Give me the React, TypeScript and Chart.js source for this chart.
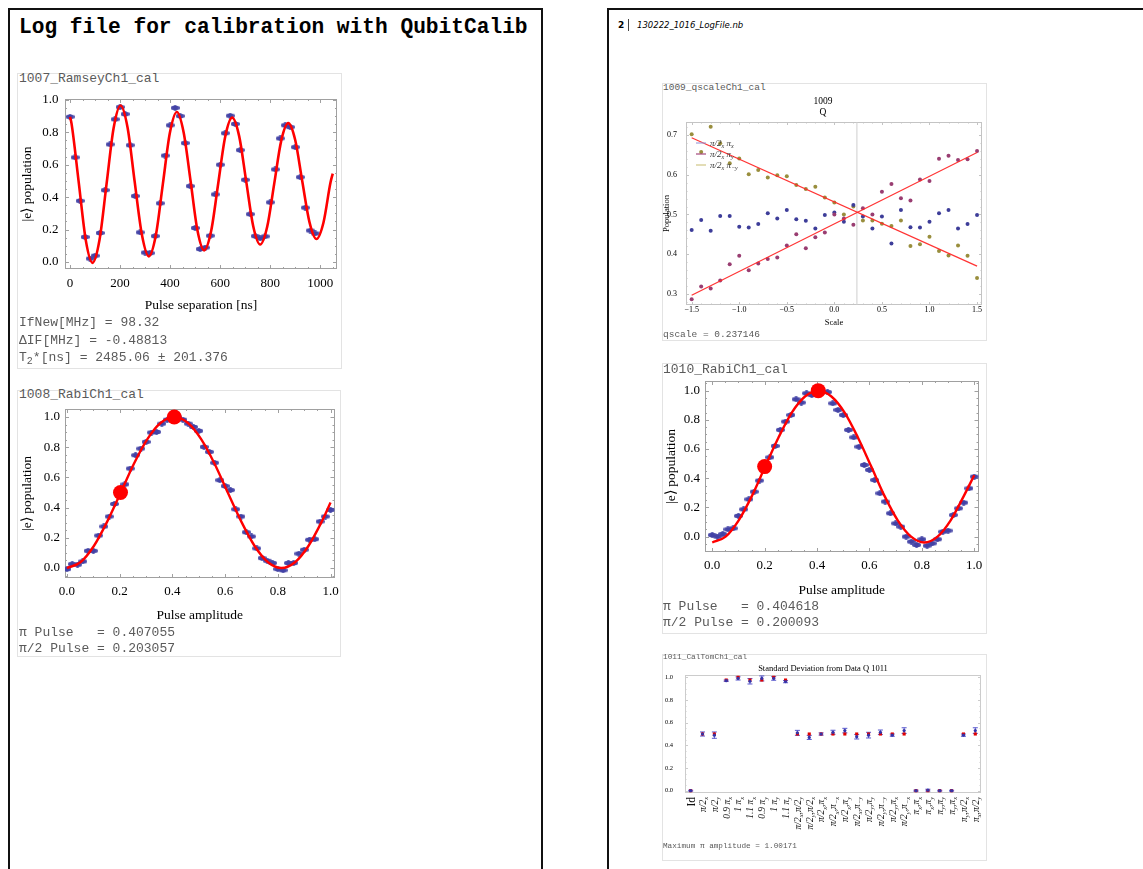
import React, { useEffect, useRef } from "react";
import { Chart, registerables } from "chart.js";
Chart.register(...registerables);

const SERIF = "'Liberation Serif', 'Times New Roman', serif";
const MONO = "'Liberation Mono', 'Courier New', monospace";
const SANS = "'DejaVu Sans', Verdana, sans-serif";

// ---------- 1007 Ramsey ----------
const ramseyX = [0, 20, 40, 60, 80, 100, 120, 140, 160, 180, 200, 220, 240, 260, 280, 300, 320, 340, 360, 380, 400, 420, 440, 460, 480, 500, 520, 540, 560, 580, 600, 620, 640, 660, 680, 700, 720, 740, 760, 780, 800, 820, 840, 860, 880, 900, 920, 940, 960, 980];
const ramseyY = [0.895, 0.645, 0.377, 0.154, 0.021, 0.039, 0.179, 0.443, 0.725, 0.88, 0.955, 0.912, 0.72, 0.407, 0.183, 0.058, 0.055, 0.16, 0.362, 0.656, 0.843, 0.95, 0.9, 0.733, 0.468, 0.21, 0.08, 0.089, 0.162, 0.417, 0.6, 0.794, 0.902, 0.851, 0.69, 0.507, 0.295, 0.16, 0.146, 0.158, 0.368, 0.571, 0.762, 0.843, 0.832, 0.708, 0.523, 0.335, 0.194, 0.176];
const ramseyFitX = [0, 6, 35, 63, 90, 118, 146, 174, 202, 230, 258, 287, 315, 343, 371, 399, 427, 454, 482, 509, 536, 564, 592, 620, 648, 676, 704, 732, 760, 788, 816, 844, 872, 900, 928, 957, 985, 1013, 1041, 1050];
const ramseyFitY = [0.895, 0.855, 0.49, 0.135, -0.005, 0.137, 0.48, 0.823, 0.965, 0.829, 0.5, 0.171, 0.035, 0.165, 0.48, 0.795, 0.925, 0.8, 0.498, 0.197, 0.072, 0.191, 0.481, 0.771, 0.89, 0.776, 0.499, 0.222, 0.108, 0.217, 0.482, 0.747, 0.856, 0.752, 0.499, 0.246, 0.142, 0.244, 0.49, 0.545];
const ramseyXTicks = [0, 200, 400, 600, 800, 1000];
const popTicks = [0, 0.2, 0.4, 0.6, 0.8, 1.0];

// ---------- 1008 / 1010 Rabi ----------
const ampX = [0, 0.02, 0.04, 0.06, 0.08, 0.1, 0.12, 0.14, 0.16, 0.18, 0.2, 0.22, 0.24, 0.26, 0.28, 0.3, 0.32, 0.34, 0.36, 0.38, 0.4, 0.42, 0.44, 0.46, 0.48, 0.5, 0.52, 0.54, 0.56, 0.58, 0.6, 0.62, 0.64, 0.66, 0.68, 0.7, 0.72, 0.74, 0.76, 0.78, 0.8, 0.82, 0.84, 0.86, 0.88, 0.9, 0.92, 0.94, 0.96, 0.98, 1.0];
const ampTicks = [0, 0.2, 0.4, 0.6, 0.8, 1.0];
const rabi1Y = [-0.007, 0.026, 0.022, 0.044, 0.114, 0.114, 0.215, 0.275, 0.341, 0.424, 0.49, 0.554, 0.659, 0.747, 0.791, 0.835, 0.897, 0.901, 0.956, 0.982, 1.0, 1.0, 0.982, 0.956, 0.934, 0.908, 0.802, 0.769, 0.697, 0.582, 0.543, 0.516, 0.389, 0.341, 0.237, 0.209, 0.13, 0.066, 0.048, 0.033, -0.007, -0.015, 0.033, 0.033, 0.095, 0.121, 0.187, 0.191, 0.308, 0.341, 0.385];
const rabi1FitX = [0, 0.051, 0.102, 0.153, 0.204, 0.254, 0.305, 0.356, 0.407, 0.458, 0.509, 0.56, 0.61, 0.661, 0.712, 0.763, 0.814, 0.865, 0.916, 0.967, 1.0];
const rabi1FitY = [0.0, 0.038, 0.146, 0.309, 0.5, 0.691, 0.854, 0.962, 1.0, 0.962, 0.854, 0.691, 0.5, 0.309, 0.146, 0.038, 0.0, 0.038, 0.146, 0.309, 0.434];
const rabi1MarkX = [0.203057, 0.407055];
const rabi1MarkY = [0.5, 1.0];

const rabi2Y = [0.011, 0.0, 0.018, 0.05, 0.057, 0.142, 0.187, 0.256, 0.308, 0.384, 0.47, 0.543, 0.621, 0.731, 0.788, 0.833, 0.941, 0.918, 0.982, 0.97, 0.995, 0.993, 0.99, 0.913, 0.868, 0.833, 0.731, 0.68, 0.616, 0.491, 0.457, 0.388, 0.297, 0.24, 0.16, 0.091, 0.068, 0.0, -0.034, -0.057, -0.018, -0.062, -0.046, -0.018, 0.034, 0.041, 0.148, 0.194, 0.233, 0.331, 0.411];
const rabi2FitX = [0, 0.051, 0.101, 0.152, 0.202, 0.253, 0.303, 0.354, 0.405, 0.455, 0.506, 0.556, 0.607, 0.657, 0.708, 0.759, 0.809, 0.86, 0.91, 0.961, 1.0];
const rabi2FitY = [-0.04, 0.0, 0.112, 0.281, 0.48, 0.679, 0.848, 0.96, 1.0, 0.96, 0.848, 0.679, 0.48, 0.281, 0.112, 0.0, -0.04, 0.0, 0.112, 0.281, 0.42];
const rabi2MarkX = [0.200093, 0.404618];
const rabi2MarkY = [0.48, 1.0];

// ---------- 1009 qscale ----------
const scaleX = [-1.5, -1.4, -1.3, -1.2, -1.1, -1.0, -0.9, -0.8, -0.7, -0.6, -0.5, -0.4, -0.3, -0.2, -0.1, 0, 0.1, 0.2, 0.3, 0.4, 0.5, 0.6, 0.7, 0.8, 0.9, 1.0, 1.1, 1.2, 1.3, 1.4, 1.5];
const qPiX = [0.461, 0.486, 0.459, 0.496, 0.496, 0.469, 0.467, 0.476, 0.503, 0.49, 0.511, 0.488, 0.484, 0.465, 0.499, 0.505, 0.482, 0.524, 0.495, 0.465, 0.495, 0.427, 0.511, 0.468, 0.467, 0.482, 0.503, 0.511, 0.465, 0.476, 0.499];
const qPiY = [0.287, 0.319, 0.314, 0.334, 0.375, 0.396, 0.36, 0.377, 0.388, 0.392, 0.422, 0.45, 0.415, 0.443, 0.455, 0.5, 0.49, 0.474, 0.516, 0.5, 0.557, 0.577, 0.541, 0.535, 0.588, 0.584, 0.64, 0.648, 0.637, 0.639, 0.66];
const qPiMinusY = [0.702, 0.657, 0.721, 0.679, 0.629, 0.641, 0.601, 0.612, 0.593, 0.599, 0.596, 0.574, 0.564, 0.57, 0.543, 0.53, 0.5, 0.52, 0.485, 0.485, 0.477, 0.471, 0.485, 0.421, 0.425, 0.444, 0.408, 0.397, 0.422, 0.396, 0.34];
const qFitX = [-1.5, 1.5];
const qFitA = [0.693, 0.37];
const qFitB = [0.297, 0.656];
const qscaleValue = 0.237146;
const qXTicks = [-1.5, -1.0, -0.5, 0, 0.5, 1.0, 1.5];
const qYTicks = [0.3, 0.4, 0.5, 0.6, 0.7];
const qLegend = ["π/2_x π_x", "π/2_x π_y", "π/2_x π_−y"];

// ---------- 1011 CalTom ----------
const calLabels = ["Id", "π/2_x", "π/2_y", "0.9 π_x", "1 π_x", "1.1 π_x", "0.9 π_y", "1 π_y", "1.1 π_y", "π/2_x,π/2_y", "π/2_y,π/2_x", "π/2_x,π_x", "π/2_x,π_−x", "π/2_x,π_y", "π/2_x,π_−y", "π/2_y,π_y", "π/2_y,π_−y", "π/2_y,π_x", "π/2_y,π_−x", "π_x,π_x", "π_x,π_y", "π_y,π_y", "π_y,π_x", "π_y,π/2_x", "π_x,π/2_y"];
const calIdeal = [0, 0.5, 0.5, 0.976, 1, 0.976, 0.976, 1, 0.976, 0.5, 0.5, 0.5, 0.5, 0.5, 0.5, 0.5, 0.5, 0.5, 0.5, 0, 0, 0, 0, 0.5, 0.5];
const calMeas = [0.0, 0.5, 0.49, 0.97, 0.99, 0.965, 0.99, 0.99, 0.962, 0.51, 0.47, 0.5, 0.515, 0.53, 0.476, 0.49, 0.515, 0.49, 0.53, 0.0, 0.005, 0.0, 0.0, 0.49, 0.53];
const calErr = [0.004, 0.018, 0.028, 0.006, 0.014, 0.024, 0.022, 0.016, 0.01, 0.022, 0.018, 0.01, 0.018, 0.02, 0.02, 0.025, 0.02, 0.01, 0.025, 0.005, 0.008, 0.004, 0.004, 0.01, 0.025];
const calYTicks = [0, 0.2, 0.4, 0.6, 0.8, 1.0];

// ---------- helpers ----------
const pts = (xs: number[], ys: number[]) => xs.map((x, i) => ({ x, y: ys[i] }));
const f1 = (v: number) => v.toFixed(1).replace("-", "−");
const f0 = (v: number) => String(Math.round(v));

function axisCfg(s: any, horiz: boolean) {
  return {
    type: "linear",
    position: horiz ? "bottom" : "left",
    min: s.min,
    max: s.max,
    afterBuildTicks: (sc: any) => {
      sc.ticks = s.ticks.map((v: number) => ({ value: v }));
    },
    afterFit: (sc: any) => {
      if (horiz) sc.height = s.size;
      else sc.width = s.size;
      sc.paddingTop = 0;
      sc.paddingBottom = 0;
      sc.paddingLeft = 0;
      sc.paddingRight = 0;
    },
    grid: { display: false, drawTicks: false },
    border: { display: false },
    ticks: {
      display: s.labels !== false,
      autoSkip: false,
      maxRotation: 0,
      minRotation: 0,
      padding: s.pad,
      color: "#000",
      font: { family: SERIF, size: s.font },
      callback: (v: any) => s.fmt(Number(v)),
    },
    title: s.title
      ? {
          display: true,
          text: s.title,
          color: "#000",
          font: { family: SERIF, size: s.titleFont },
          padding: { top: s.titlePad, bottom: s.titlePad },
        }
      : { display: false },
  };
}

function framePlugin(color: string, xDiv: number, yDiv: number, xLen: number, yLen: number) {
  return {
    id: "frame",
    beforeDatasetsDraw(chart: any) {
      const { ctx, chartArea: a } = chart;
      const xs = chart.scales.x;
      const ys = chart.scales.y;
      ctx.save();
      ctx.strokeStyle = color;
      ctx.lineWidth = 1;
      ctx.strokeRect(Math.round(a.left) + 0.5, Math.round(a.top) + 0.5, Math.round(a.right - a.left) - 1, Math.round(a.bottom - a.top) - 1);
      const marks = (sc: any, div: number) => {
        const t = sc.ticks.map((k: any) => k.value);
        const out: [number, boolean][] = [];
        if (t.length < 2) return out;
        const step = (t[1] - t[0]) / div;
        const n0 = Math.ceil((sc.min - t[0]) / step - 1e-6);
        const n1 = Math.floor((sc.max - t[0]) / step + 1e-6);
        for (let n = n0; n <= n1; n++) out.push([t[0] + n * step, n % div === 0]);
        return out;
      };
      ctx.beginPath();
      if (xLen > 0) {
        for (const [v, major] of marks(xs, xDiv)) {
          const p = Math.round(xs.getPixelForValue(v)) + 0.5;
          const l = major ? xLen : xLen / 2;
          ctx.moveTo(p, a.bottom);
          ctx.lineTo(p, a.bottom - l);
          ctx.moveTo(p, a.top);
          ctx.lineTo(p, a.top + l);
        }
      }
      if (yLen > 0) {
        for (const [v, major] of marks(ys, yDiv)) {
          const p = Math.round(ys.getPixelForValue(v)) + 0.5;
          const l = major ? yLen : yLen / 2;
          ctx.moveTo(a.left, p);
          ctx.lineTo(a.left + l, p);
          ctx.moveTo(a.right, p);
          ctx.lineTo(a.right - l, p);
        }
      }
      ctx.stroke();
      ctx.restore();
    },
  };
}

function parseRich(s: string) {
  const segs: { t: string; sub: boolean }[] = [];
  let cur = "";
  let sub = false;
  for (const ch of s) {
    if (ch === "_") {
      if (cur) segs.push({ t: cur, sub });
      cur = "";
      sub = true;
      continue;
    }
    if (sub && (ch === "," || ch === " ")) {
      segs.push({ t: cur, sub: true });
      cur = "";
      sub = false;
    }
    cur += ch;
  }
  if (cur) segs.push({ t: cur, sub });
  return segs;
}

function richFont(size: number, italic: boolean) {
  return `${italic ? "italic " : ""}${size}px ${SERIF}`;
}

function richWidth(ctx: any, text: string, size: number, italic: boolean) {
  let w = 0;
  for (const s of parseRich(text)) {
    ctx.font = richFont(s.sub ? size * 0.68 : size, italic);
    w += ctx.measureText(s.t).width;
  }
  return w;
}

function drawRich(ctx: any, text: string, x: number, y: number, size: number, italic: boolean, color: string) {
  ctx.fillStyle = color;
  ctx.textBaseline = "alphabetic";
  ctx.textAlign = "left";
  let cx = x;
  for (const s of parseRich(text)) {
    ctx.font = richFont(s.sub ? size * 0.68 : size, italic);
    ctx.fillText(s.t, cx, y + (s.sub ? size * 0.25 : 0));
    cx += ctx.measureText(s.t).width;
  }
  return cx - x;
}

function makeBlob() {
  const c = document.createElement("canvas");
  c.width = 9;
  c.height = 6;
  const g = c.getContext("2d")!;
  g.fillStyle = "rgba(66,66,165,0.95)";
  const rr = (x: number, y: number, w: number, h: number, r: number) => {
    g.beginPath();
    g.moveTo(x + r, y);
    g.arcTo(x + w, y, x + w, y + h, r);
    g.arcTo(x + w, y + h, x, y + h, r);
    g.arcTo(x, y + h, x, y, r);
    g.arcTo(x, y, x + w, y, r);
    g.closePath();
    g.fill();
  };
  rr(0, 1, 9, 4, 2);
  rr(2.5, 0, 4, 6, 2);
  return c;
}

const baseOptions = (padding: any, title?: any) => ({
  responsive: false,
  animation: false,
  devicePixelRatio: 1,
  events: [],
  layout: { padding },
  plugins: {
    legend: { display: false },
    tooltip: { enabled: false },
    title: title || { display: false },
  },
});

export default function App() {
  const refA = useRef<HTMLCanvasElement>(null);
  const refB = useRef<HTMLCanvasElement>(null);
  const refC = useRef<HTMLCanvasElement>(null);
  const refD = useRef<HTMLCanvasElement>(null);
  const refE = useRef<HTMLCanvasElement>(null);

  useEffect(() => {
    const charts: any[] = [];
    const blob = makeBlob();
    const RED = "#ff0000";

    // ---- Ramsey ----
    charts.push(
      new Chart(refA.current as any, {
        type: "scatter",
        data: {
          datasets: [
            { data: pts(ramseyFitX, ramseyFitY), showLine: true, borderColor: RED, borderWidth: 2.6, pointRadius: 0, cubicInterpolationMode: "monotone", order: 0 } as any,
            { data: pts(ramseyX, ramseyY), pointStyle: blob, pointRadius: 4, order: 1 } as any,
          ],
        },
        options: {
          ...baseOptions({ top: 11, right: 2, bottom: 0, left: 0 }),
          scales: {
            x: axisCfg({ min: -20, max: 1067, ticks: ramseyXTicks, fmt: f0, size: 47, font: 13, pad: 7, title: "Pulse separation [ns]", titleFont: 13.5, titlePad: 2 }, true),
            y: axisCfg({ min: -0.043, max: 1.005, ticks: popTicks, fmt: f1, size: 47, font: 13, pad: 6.5, title: "|e⟩ population", titleFont: 13.5, titlePad: 1 }, false),
          },
        } as any,
        plugins: [framePlugin("#a0a0a0", 4, 4, 4, 4)],
      })
    );

    const rabiChart = (canvas: any, ys: number[], fx: number[], fy: number[], mx: number[], my: number[], xr: number[], yr: number[], pad: any, ySize: number, xSize: number, xPad: number, xtPad: number, ytPad: number) =>
      new Chart(canvas, {
        type: "scatter",
        data: {
          datasets: [
            { data: pts(mx, my), pointRadius: 7.5, backgroundColor: RED, borderWidth: 0, order: 0 } as any,
            { data: pts(fx, fy), showLine: true, borderColor: RED, borderWidth: 2.4, pointRadius: 0, cubicInterpolationMode: "monotone", order: 1 } as any,
            { data: pts(ampX, ys), pointStyle: blob, pointRadius: 4, order: 2 } as any,
          ],
        },
        options: {
          ...baseOptions(pad),
          scales: {
            x: axisCfg({ min: xr[0], max: xr[1], ticks: ampTicks, fmt: f1, size: xSize, font: 13, pad: xPad, title: "Pulse amplitude", titleFont: 13.5, titlePad: xtPad }, true),
            y: axisCfg({ min: yr[0], max: yr[1], ticks: popTicks, fmt: f1, size: ySize, font: 13, pad: 5, title: "|e⟩ population", titleFont: 13.5, titlePad: ytPad }, false),
          },
        } as any,
        plugins: [framePlugin("#a0a0a0", 4, 4, 4, 4)],
      });

    charts.push(rabiChart(refB.current, rabi1Y, rabi1FitX, rabi1FitY, rabi1MarkX, rabi1MarkY, [-0.0075, 1.015], [-0.066, 1.053], { top: 9, right: 5, bottom: 0, left: 0 }, 47, 48, 6.2, 2.9, 1));
    charts.push(rabiChart(refD.current, rabi2Y, rabi2FitX, rabi2FitY, rabi2MarkX, rabi2MarkY, [-0.0276, 1.0163], [-0.105, 1.066], { top: 9, right: 5, bottom: 0, left: 0 }, 43, 50, 6.2, 3.9, 1.6));

    // ---- qscale ----
    const qYMin = 0.2723;
    const qYMax = 0.7327;
    const legendColors = ["rgba(150,150,215,0.9)", "rgba(160,60,115,0.95)", "rgba(205,195,125,0.95)"];
    charts.push(
      new Chart(refC.current as any, {
        type: "scatter",
        data: {
          datasets: [
            { data: [{ x: qscaleValue, y: qYMin }, { x: qscaleValue, y: qYMax }], showLine: true, borderColor: "#cfcfcf", borderWidth: 1, pointRadius: 0, order: 5 } as any,
            { data: pts(scaleX, qPiX), pointRadius: 2, backgroundColor: "#3d3d99", borderWidth: 0, order: 3 } as any,
            { data: pts(scaleX, qPiY), pointRadius: 2, backgroundColor: "#993d71", borderWidth: 0, order: 2 } as any,
            { data: pts(scaleX, qPiMinusY), pointRadius: 2, backgroundColor: "#998e3d", borderWidth: 0, order: 4 } as any,
            { data: pts(qFitX, qFitA), showLine: true, borderColor: "rgba(255,40,40,0.95)", borderWidth: 1.2, pointRadius: 0, order: 0 } as any,
            { data: pts(qFitX, qFitB), showLine: true, borderColor: "rgba(255,40,40,0.95)", borderWidth: 1.2, pointRadius: 0, order: 0 } as any,
          ],
        },
        options: {
          ...baseOptions({ top: 0, right: 2, bottom: 0, left: 0 }, {
            display: true,
            text: ["1009", "Q"],
            color: "#000",
            font: { family: SERIF, size: 9.5, weight: "normal" },
            padding: { top: 3.3, bottom: 3.9 },
          }),
          scales: {
            x: axisCfg({ min: -1.5595, max: 1.552, ticks: qXTicks, fmt: f1, size: 27, font: 8, pad: 0.5, title: "Scale", titleFont: 8.5, titlePad: 3.9 }, true),
            y: axisCfg({ min: qYMin, max: qYMax, ticks: qYTicks, fmt: f1, size: 24, font: 8, pad: 9, title: "Population", titleFont: 8.5, titlePad: 0 }, false),
          },
        } as any,
        plugins: [
          framePlugin("#c4c4c4", 5, 5, 3, 3),
          {
            id: "qlegend",
            afterDatasetsDraw(chart: any) {
              const { ctx, chartArea: a } = chart;
              ctx.save();
              qLegend.forEach((lab, i) => {
                const y = a.top + 21 + i * 11;
                ctx.strokeStyle = legendColors[i];
                ctx.lineWidth = 1.2;
                ctx.beginPath();
                ctx.moveTo(a.left + 10, y);
                ctx.lineTo(a.left + 20, y);
                ctx.stroke();
                drawRich(ctx, lab, a.left + 24, y + 3, 9, true, "#333");
              });
              ctx.restore();
            },
          },
        ],
      })
    );

    // ---- CalTom ----
    const barPts: any[] = [];
    const capPts: any[] = [];
    calMeas.forEach((m, i) => {
      barPts.push({ x: i, y: m - calErr[i] }, { x: i, y: m + calErr[i] }, { x: i, y: null });
      capPts.push({ x: i, y: m - calErr[i] }, { x: i, y: m + calErr[i] });
    });
    const calIdx = calLabels.map((_, i) => i);
    charts.push(
      new Chart(refE.current as any, {
        type: "scatter",
        data: {
          datasets: [
            { data: barPts, showLine: true, spanGaps: false, borderColor: "rgba(70,70,200,0.9)", borderWidth: 1, pointRadius: 0, order: 3 } as any,
            { data: capPts, pointStyle: "line", pointRadius: 2.5, borderColor: "rgba(70,70,200,0.9)", borderWidth: 1, order: 2 } as any,
            { data: pts(calIdx, calIdeal), pointStyle: "rect", pointRadius: 2.2, backgroundColor: "#e00000", borderWidth: 0, order: 1 } as any,
            { data: pts(calIdx, calMeas), pointRadius: 1.6, backgroundColor: "#3434a8", borderWidth: 0, order: 0 } as any,
          ],
        },
        options: {
          ...baseOptions({ top: 0, right: 2, bottom: 0, left: 0 }, {
            display: true,
            text: "Standard Deviation from Data Q 1011",
            color: "#000",
            font: { family: SERIF, size: 8.5, weight: "normal" },
            padding: { top: 2.9, bottom: 0.9 },
          }),
          scales: {
            x: axisCfg({ min: -0.476, max: 24.48, ticks: calIdx, fmt: f0, size: 44, font: 8, pad: 0, labels: false }, true),
            y: axisCfg({ min: -0.0203, max: 1.0203, ticks: calYTicks, fmt: f1, size: 23, font: 6.5, pad: 12 }, false),
          },
        } as any,
        plugins: [
          framePlugin("#cccccc", 1, 4, 0, 3),
          {
            id: "calLabels",
            afterDraw(chart: any) {
              const { ctx, chartArea: a } = chart;
              const xs = chart.scales.x;
              ctx.save();
              calLabels.forEach((lab, i) => {
                const px = xs.getPixelForValue(i);
                const isId = lab === "Id";
                const size = isId ? 11.5 : 9.5;
                const w = richWidth(ctx, lab, size, !isId);
                ctx.save();
                ctx.translate(px, a.bottom + 4);
                ctx.rotate(-Math.PI / 2);
                drawRich(ctx, lab, -w, size * 0.35, size, !isId, "#111");
                ctx.restore();
              });
              ctx.restore();
            },
          },
        ],
      })
    );

    return () => charts.forEach((c) => c.destroy());
  }, []);

  const txt = (x: number, cy: number, size: number, content: any, extra: any = {}) => (
    <div
      style={{
        position: "absolute",
        left: x,
        top: cy - size * 0.6,
        fontSize: size,
        lineHeight: `${size * 1.2}px`,
        fontFamily: MONO,
        color: "#5a5a5a",
        whiteSpace: "pre",
        ...extra,
      }}
    >
      {content}
    </div>
  );
  const cell = (l: number, t: number, w: number, h: number) => (
    <div style={{ position: "absolute", left: l, top: t, width: w, height: h, border: "1px solid #e3e3e3", boxSizing: "border-box" }} />
  );
  const cv = (ref: any, l: number, t: number, w: number, h: number) => (
    <canvas ref={ref} width={w} height={h} style={{ position: "absolute", left: l, top: t, width: w, height: h }} />
  );

  return (
    <div style={{ position: "fixed", left: 0, top: 0, width: 1143, height: 869, overflow: "hidden", background: "#fff" }}>
      {/* left page */}
      <div style={{ position: "absolute", left: 8, top: 8, width: 535, height: 1000, border: "2px solid #111", boxSizing: "border-box" }} />
      {/* right page */}
      <div style={{ position: "absolute", left: 607, top: 8, width: 700, height: 1000, border: "2px solid #111", boxSizing: "border-box" }} />

      {txt(19, 28, 21.2, "Log file for calibration with QubitCalib", { fontWeight: "bold", color: "#000" })}

      {cell(17, 73, 325, 296)}
      {txt(19, 79, 13, "1007_RamseyCh1_cal")}
      {cv(refA, 18, 88, 324, 228)}
      {txt(19, 323, 13, "IfNew[MHz] = 98.32")}
      {txt(19, 340.5, 13, "ΔIF[MHz] = -0.48813")}
      {txt(19, 357.5, 13, <>T<span style={{ fontSize: 10, verticalAlign: "-3px", lineHeight: 0 }}>2</span>*[ns] = 2485.06 ± 201.376</>)}

      {cell(17, 390, 324, 267)}
      {txt(19, 395, 13, "1008_RabiCh1_cal")}
      {cv(refB, 18, 400, 324, 226)}
      {txt(19, 633, 13, "π Pulse   = 0.407055")}
      {txt(19, 648.5, 13, "π/2 Pulse = 0.203057")}

      {/* right page header */}
      {txt(618, 25, 9, "2", { fontFamily: SANS, fontWeight: "bold", color: "#000" })}
      <div style={{ position: "absolute", left: 628, top: 19, width: 1, height: 12, background: "#444" }} />
      {txt(637, 25, 8.5, "130222_1016_LogFile.nb", { fontFamily: SANS, fontStyle: "italic", color: "#000" })}

      {cell(662, 83, 325, 258)}
      {txt(663, 87.5, 9.5, "1009_qscaleCh1_cal")}
      {cv(refC, 662, 92, 324, 240)}
      {txt(663, 335, 9.5, "qscale = 0.237146")}

      {cell(662, 363, 325, 271)}
      {txt(663, 370, 13, "1010_RabiCh1_cal")}
      {cv(refD, 662, 372, 324, 230)}
      {txt(663, 607, 13, "π Pulse   = 0.404618")}
      {txt(663, 623, 13, "π/2 Pulse = 0.200093")}

      {cell(662, 654, 325, 207)}
      {txt(663, 658, 7.8, "1011_CalTomCh1_cal")}
      {cv(refE, 662, 661, 324, 176)}
      {txt(663, 847, 7.7, "Maximum π amplitude = 1.00171")}
    </div>
  );
}
